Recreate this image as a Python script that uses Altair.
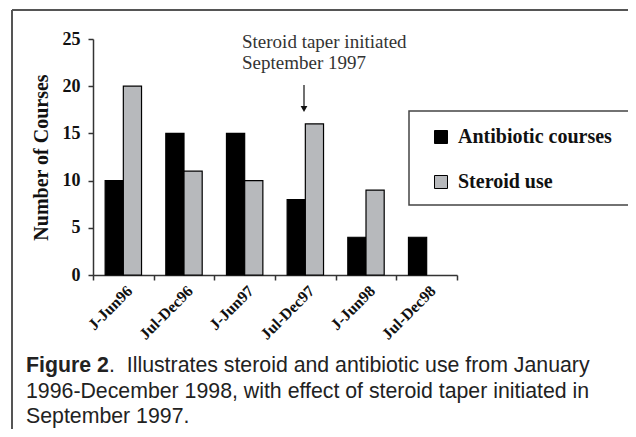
import altair as alt
import pandas as pd

periods = ["J-Jun96", "Jul-Dec96", "J-Jun97", "Jul-Dec97", "J-Jun98", "Jul-Dec98"]
antibiotic = [10, 15, 15, 8, 4, 4]
steroid = [20, 11, 10, 16, 9, None]
series_names = ["Antibiotic courses", "Steroid use"]
series_colors = ["#000000", "#b7b9bc"]
y_ticks = [0, 5, 10, 15, 20, 25]
annotation_lines = ["Steroid taper initiated", "September 1997"]
caption_bold = "Figure 2"
caption_line1 = ".\u00a0\u00a0Illustrates steroid and antibiotic use from January"
caption_line2 = "1996-December 1998, with effect of steroid taper initiated in"
caption_line3 = "September 1997."

rows = []
for p, a, s in zip(periods, antibiotic, steroid):
    rows.append({"period": p, "series": series_names[0], "value": a})
    if s is not None:
        rows.append({"period": p, "series": series_names[1], "value": s})
df = pd.DataFrame(rows)

W, H = 364, 236
SERIF = "Liberation Serif"
SANS = "Liberation Sans"
CAP = 21.3

bars = alt.Chart(df).mark_bar(stroke="black", strokeWidth=1.2).encode(
    x=alt.X("period:N", sort=periods,
            scale=alt.Scale(paddingInner=0, paddingOuter=0),
            axis=alt.Axis(title=None, labelAngle=-45, labelAlign="right",
                          labelBaseline="middle", labelFont=SERIF,
                          labelFontWeight="bold", labelFontSize=16,
                          labelColor="#111", labelPadding=8, labelOffset=6,
                          tickBand="extent", tickSize=5, tickColor="#333",
                          tickWidth=1.5, domainColor="#333", domainWidth=1.5)),
    xOffset=alt.XOffset("series:N", sort=series_names,
                        scale=alt.Scale(paddingInner=0, paddingOuter=0.667)),
    y=alt.Y("value:Q", scale=alt.Scale(domain=[0, 25], nice=False),
            axis=alt.Axis(title="Number of Courses", values=y_ticks,
                          grid=False, labelFont=SERIF, labelFontWeight="bold",
                          labelFontSize=18, labelColor="#111", labelPadding=8,
                          tickSize=5, tickColor="#333", tickWidth=1.5,
                          domainColor="#333", domainWidth=1.5,
                          titleFont=SERIF, titleFontWeight="bold",
                          titleFontSize=20, titleColor="#111",
                          titlePadding=11)),
    color=alt.Color("series:N", sort=series_names,
                    scale=alt.Scale(domain=series_names, range=series_colors),
                    legend=alt.Legend(title=None, orient="none", legendX=338,
                                      legendY=88, symbolType="square",
                                      symbolSize=169, symbolStrokeColor="black",
                                      symbolStrokeWidth=1, labelFont=SERIF,
                                      labelFontWeight="bold", labelFontSize=20,
                                      labelColor="#111", labelOffset=7,
                                      rowPadding=25, padding=0, labelLimit=400)),
)

legend_box = alt.Chart().mark_rect(fill="white", fillOpacity=0, stroke="#444",
                                   strokeWidth=1.5).encode(
    x=alt.value(316), x2=alt.value(560), y=alt.value(72), y2=alt.value(166))

frame_left = alt.Chart().mark_rule(color="#555", strokeWidth=2).encode(
    x=alt.value(-81), y=alt.value(-29), y2=alt.value(400))
frame_top = alt.Chart().mark_rule(color="#555", strokeWidth=2).encode(
    x=alt.value(-81), x2=alt.value(560), y=alt.value(-29))

ann1 = alt.Chart().mark_text(text=annotation_lines[0], font=SERIF, fontSize=19,
                             align="left", baseline="middle", color="#333").encode(
    x=alt.value(149), y=alt.value(3))
ann2 = alt.Chart().mark_text(text=annotation_lines[1], font=SERIF, fontSize=19,
                             align="left", baseline="middle", color="#333").encode(
    x=alt.value(149), y=alt.value(24))
arrow_line = alt.Chart().mark_rule(color="#111", strokeWidth=1.2).encode(
    x=alt.value(211), y=alt.value(46), y2=alt.value(69))
arrow_head = alt.Chart().mark_point(shape="triangle-down", filled=True,
                                    color="#111", size=45, opacity=1).encode(
    x=alt.value(211), y=alt.value(70))

cap_b = alt.Chart().mark_text(text=caption_bold, font=SANS, fontSize=CAP,
                              fontWeight="bold", align="left", baseline="middle",
                              color="#222").encode(x=alt.value(-67), y=alt.value(327))
cap1 = alt.Chart().mark_text(text=caption_line1, font=SANS, fontSize=CAP,
                             align="left", baseline="middle",
                             color="#222").encode(x=alt.value(16), y=alt.value(327))
cap2 = alt.Chart().mark_text(text=caption_line2, font=SANS, fontSize=CAP,
                             align="left", baseline="middle",
                             color="#222").encode(x=alt.value(-67), y=alt.value(353))
cap3 = alt.Chart().mark_text(text=caption_line3, font=SANS, fontSize=CAP,
                             align="left", baseline="middle",
                             color="#222").encode(x=alt.value(-67), y=alt.value(378))

chart = alt.layer(
    frame_left, frame_top, legend_box, bars, ann1, ann2, arrow_line, arrow_head,
    cap_b, cap1, cap2, cap3
).properties(
    width=W, height=H,
    autosize=alt.AutoSizeParams(type="none"),
    padding={"left": 85, "top": 31, "right": 171, "bottom": 154},
    background="white",
).configure_view(strokeWidth=0)

chart.save("out.html", embed_options={"renderer": "svg", "actions": False})
